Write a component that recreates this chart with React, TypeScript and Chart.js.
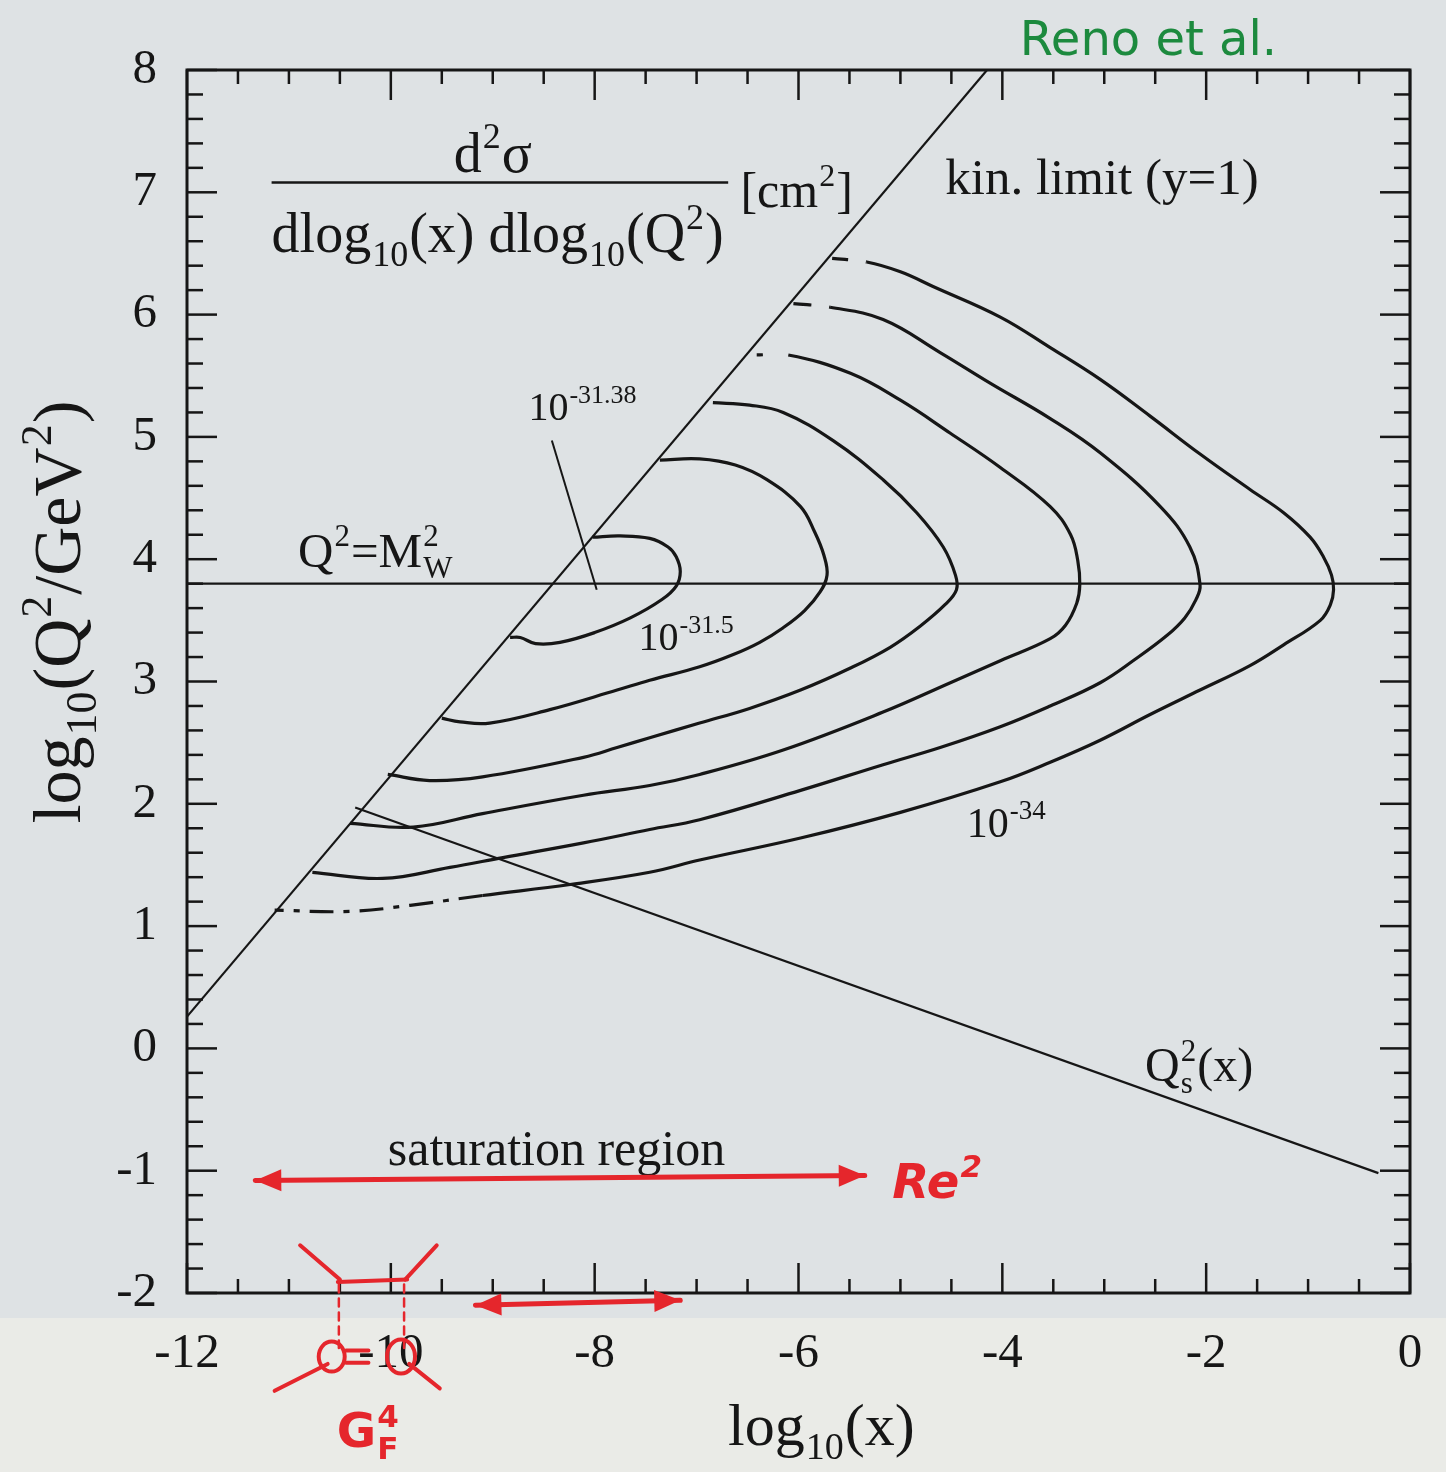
import { useEffect, useRef } from "react";
import { Chart, registerables } from "chart.js";

Chart.register(...registerables);

type Pt = [number, number];

// Axis ranges (log10 x, log10 Q^2/GeV^2)
const X_MIN = -12;
const X_MAX = 0;
const Y_MIN = -2;
const Y_MAX = 8;
const X_TICK_VALUES = [-12, -10, -8, -6, -4, -2, 0];
const Y_TICK_VALUES = [-2, -1, 0, 1, 2, 3, 4, 5, 6, 7, 8];
const X_MINOR_STEP = 0.5;
const Y_MINOR_STEP = 0.2;

// Contours of d2sigma / dlog10(x) dlog10(Q2), levels 10^-31.5 ... 10^-34 cm^2
const CONTOUR_315: Pt[] = [
  [-8.02, 4.18], [-7.75, 4.19], [-7.46, 4.17], [-7.28, 4.1], [-7.2, 4.02], [-7.16, 3.9],
  [-7.2, 3.78], [-7.34, 3.67], [-7.65, 3.52], [-8.0, 3.4], [-8.34, 3.32], [-8.58, 3.31],
  [-8.73, 3.36], [-8.83, 3.36],
];
const CONTOUR_32: Pt[] = [
  [-7.36, 4.81], [-6.97, 4.82], [-6.62, 4.77], [-6.31, 4.65], [-5.98, 4.43], [-5.84, 4.22],
  [-5.75, 4.03], [-5.72, 3.87], [-5.79, 3.73], [-5.94, 3.58], [-6.15, 3.44], [-6.38, 3.32],
  [-6.64, 3.22], [-6.97, 3.12], [-7.46, 3.01], [-7.78, 2.93], [-8.44, 2.77], [-9.03, 2.66],
  [-9.32, 2.67], [-9.5, 2.7],
];
const CONTOUR_325: Pt[] = [
  [-6.84, 5.28], [-6.48, 5.26], [-6.15, 5.2], [-5.66, 4.97], [-5.17, 4.65], [-4.84, 4.38],
  [-4.58, 4.1], [-4.46, 3.87], [-4.45, 3.75], [-4.56, 3.63], [-4.81, 3.45], [-5.1, 3.28],
  [-5.49, 3.11], [-5.98, 2.93], [-6.48, 2.78], [-6.97, 2.66], [-7.46, 2.54], [-7.78, 2.46],
  [-8.11, 2.38], [-9.1, 2.22], [-9.62, 2.19], [-10.03, 2.24],
];
const CONTOUR_33: Pt[] = [
  [-6.41, 5.67], [-6.1, 5.67], [-5.49, 5.52], [-5.0, 5.3], [-4.51, 5.03], [-4.02, 4.75],
  [-3.53, 4.43], [-3.33, 4.2], [-3.26, 3.99], [-3.24, 3.79], [-3.27, 3.64], [-3.38, 3.46],
  [-3.53, 3.35], [-4.02, 3.17], [-4.51, 2.99], [-5.17, 2.75], [-6.15, 2.44], [-6.97, 2.24],
  [-7.46, 2.15], [-8.11, 2.07], [-9.1, 1.92], [-9.78, 1.81], [-10.4, 1.84],
];
const CONTOUR_335: Pt[] = [
  [-6.05, 6.09], [-5.69, 6.06], [-5.17, 5.96], [-4.61, 5.69], [-4.12, 5.44], [-3.53, 5.15],
  [-3.04, 4.87], [-2.45, 4.43], [-2.16, 4.1], [-2.06, 3.79], [-2.1, 3.67], [-2.21, 3.52],
  [-2.38, 3.38], [-2.7, 3.18], [-3.04, 2.99], [-3.53, 2.8], [-4.02, 2.63], [-4.61, 2.46],
  [-5.17, 2.32], [-5.98, 2.11], [-6.97, 1.87], [-7.46, 1.79], [-8.11, 1.68], [-8.9, 1.56],
  [-9.42, 1.48], [-10.08, 1.39], [-10.77, 1.44],
];
const CONTOUR_34: Pt[] = [
  [-5.67, 6.46], [-5.33, 6.43], [-5.0, 6.35], [-4.68, 6.23], [-4.02, 5.98], [-3.53, 5.73],
  [-3.04, 5.47], [-2.55, 5.17], [-2.06, 4.86], [-1.57, 4.57], [-1.24, 4.38], [-0.98, 4.18],
  [-0.85, 4.02], [-0.77, 3.87], [-0.75, 3.75], [-0.78, 3.63], [-0.88, 3.5], [-1.24, 3.3],
  [-1.57, 3.13], [-2.06, 2.93], [-2.55, 2.73], [-3.04, 2.52], [-3.53, 2.34], [-4.02, 2.18],
  [-5.0, 1.93], [-5.98, 1.72], [-6.97, 1.54], [-7.46, 1.44], [-8.24, 1.34], [-9.1, 1.25],
  [-9.81, 1.17], [-10.4, 1.12], [-11.14, 1.13],
];
const CONTOURS = [CONTOUR_315, CONTOUR_32, CONTOUR_325, CONTOUR_33, CONTOUR_335, CONTOUR_34];

// Broken pieces where the contour meets the kinematic limit (dash pattern of first / last segments)
const CONTOUR_HEAD_DASH: (number[] | null)[] = [null, null, null, [6, 26, 2000], [18, 18, 2000], [16, 18, 2000]];
const CONTOUR_TAIL_SEGMENTS = [0, 0, 0, 0, 0, 3];

// Reference lines
const KIN_LIMIT: Pt[] = [[-12, 0.26], [-4.15, 8]];
const W_MASS_LINE: Pt[] = [[-12, 3.8], [0, 3.8]];
const SATURATION_SCALE: Pt[] = [[-10.35, 1.97], [-0.31, -1.02]];
const PEAK_POINTER: Pt[] = [[-8.42, 4.97], [-7.98, 3.75]];

const INK = "#161616";
const RED = "#e5262c";
const GREEN = "#1c8a3e";
const SERIF = '"Liberation Serif", "Times New Roman", serif';
const HAND = '"DejaVu Sans", "Noto Sans", sans-serif';

type Part = { t?: string; sup?: string; sub?: string };

function richWidth(ctx: CanvasRenderingContext2D, parts: Part[], size: number, fam: string, style = "") {
  let w = 0;
  for (const p of parts) {
    if (p.t) {
      ctx.font = `${style}${size}px ${fam}`;
      w += ctx.measureText(p.t).width;
    }
    if (p.sup || p.sub) {
      ctx.font = `${style}${Math.round(size * 0.64)}px ${fam}`;
      w += Math.max(p.sup ? ctx.measureText(p.sup).width : 0, p.sub ? ctx.measureText(p.sub).width : 0);
    }
  }
  return w;
}

function drawRich(
  ctx: CanvasRenderingContext2D,
  parts: Part[],
  x: number,
  y: number,
  size: number,
  opts: { fam?: string; color?: string; align?: "left" | "center"; style?: string } = {}
) {
  const fam = opts.fam ?? SERIF;
  const style = opts.style ?? "";
  ctx.fillStyle = opts.color ?? INK;
  ctx.textBaseline = "alphabetic";
  ctx.textAlign = "left";
  let cx = x;
  if (opts.align === "center") cx = x - richWidth(ctx, parts, size, fam, style) / 2;
  for (const p of parts) {
    if (p.t) {
      ctx.font = `${style}${size}px ${fam}`;
      ctx.fillText(p.t, cx, y);
      cx += ctx.measureText(p.t).width;
    }
    if (p.sup || p.sub) {
      ctx.font = `${style}${Math.round(size * 0.64)}px ${fam}`;
      let w = 0;
      if (p.sup) {
        ctx.fillText(p.sup, cx + 1, y - size * 0.42);
        w = Math.max(w, ctx.measureText(p.sup).width);
      }
      if (p.sub) {
        ctx.fillText(p.sub, cx + 1, y + size * 0.24);
        w = Math.max(w, ctx.measureText(p.sub).width);
      }
      cx += w + 2;
    }
  }
}

function seg(ctx: CanvasRenderingContext2D, x1: number, y1: number, x2: number, y2: number) {
  ctx.beginPath();
  ctx.moveTo(x1, y1);
  ctx.lineTo(x2, y2);
  ctx.stroke();
}

function arrowHead(ctx: CanvasRenderingContext2D, x: number, y: number, ang: number, len: number, half: number) {
  ctx.beginPath();
  ctx.moveTo(x, y);
  ctx.lineTo(x - len * Math.cos(ang) + half * Math.sin(ang), y - len * Math.sin(ang) - half * Math.cos(ang));
  ctx.lineTo(x - len * Math.cos(ang) - half * Math.sin(ang), y - len * Math.sin(ang) + half * Math.cos(ang));
  ctx.closePath();
  ctx.fill();
}

function doubleArrow(ctx: CanvasRenderingContext2D, x1: number, y1: number, x2: number, y2: number) {
  seg(ctx, x1, y1, x2, y2);
  const a = Math.atan2(y2 - y1, x2 - x1);
  arrowHead(ctx, x2, y2, a, 26, 11);
  arrowHead(ctx, x1, y1, a + Math.PI, 26, 11);
}

const decorPlugin = {
  id: "decor",
  beforeDraw(chart: any) {
    const ctx: CanvasRenderingContext2D = chart.ctx;
    ctx.save();
    ctx.fillStyle = "#dee2e4";
    ctx.fillRect(0, 0, chart.width, chart.height);
    ctx.fillStyle = "#eaebe7";
    ctx.fillRect(0, 1318, chart.width, chart.height - 1318);
    ctx.restore();
  },
  afterDraw(chart: any) {
    const ctx: CanvasRenderingContext2D = chart.ctx;
    const xs = chart.scales.x;
    const ys = chart.scales.y;
    const X = (v: number) => xs.getPixelForValue(v);
    const Y = (v: number) => ys.getPixelForValue(v);
    const { left, right, top, bottom } = chart.chartArea;
    ctx.save();
    ctx.strokeStyle = INK;
    ctx.lineCap = "butt";

    // frame
    ctx.lineWidth = 3;
    ctx.strokeRect(left, top, right - left, bottom - top);

    // inward ticks on all four sides
    ctx.lineWidth = 2.5;
    const nx = Math.round((X_MAX - X_MIN) / X_MINOR_STEP);
    for (let i = 0; i <= nx; i++) {
      const v = X_MIN + i * X_MINOR_STEP;
      const major = i % 4 === 0;
      const len = major ? 30 : 14;
      const p = X(v);
      seg(ctx, p, bottom, p, bottom - len);
      seg(ctx, p, top, p, top + len);
    }
    const ny = Math.round((Y_MAX - Y_MIN) / Y_MINOR_STEP);
    for (let i = 0; i <= ny; i++) {
      const v = Y_MIN + i * Y_MINOR_STEP;
      const major = i % 5 === 0;
      const len = major ? 30 : 16;
      const p = Y(v);
      seg(ctx, left, p, left + len, p);
      seg(ctx, right, p, right - len, p);
    }

    // cross-section fraction
    drawRich(ctx, [{ t: "d" }, { sup: "2" }, { t: "σ" }], X(-9.01), Y(7.17), 56, { align: "center" });
    ctx.lineWidth = 2.5;
    seg(ctx, X(-11.17), Y(7.08), X(-6.69), Y(7.08));
    drawRich(
      ctx,
      [{ t: "dlog" }, { sub: "10" }, { t: "(x) dlog" }, { sub: "10" }, { t: "(Q" }, { sup: "2" }, { t: ")" }],
      X(-11.17),
      Y(6.51),
      56
    );
    drawRich(ctx, [{ t: "[cm" }, { sup: "2" }, { t: "]" }], X(-6.57), Y(6.88), 50);

    // line labels
    drawRich(ctx, [{ t: "kin. limit (y=1)" }], X(-4.56), Y(6.99), 51);
    drawRich(ctx, [{ t: "Q" }, { sup: "2" }, { t: "=M" }, { sup: "2", sub: "W" }], X(-10.91), Y(3.94), 49);
    drawRich(ctx, [{ t: "Q" }, { sup: "2", sub: "s" }, { t: "(x)" }], X(-2.6), Y(-0.27), 48);
    drawRich(ctx, [{ t: "saturation region" }], X(-10.03), Y(-0.95), 50);

    // contour labels
    drawRich(ctx, [{ t: "10" }, { sup: "-31.38" }], X(-8.65), Y(5.14), 40);
    drawRich(ctx, [{ t: "10" }, { sup: "-31.5" }], X(-7.57), Y(3.26), 40);
    drawRich(ctx, [{ t: "10" }, { sup: "-34" }], X(-4.35), Y(1.73), 42);

    // axis titles
    drawRich(ctx, [{ t: "log" }, { sub: "10" }, { t: "(x)" }], 728, bottom + 152, 60);
    ctx.save();
    ctx.translate(80, 615);
    ctx.rotate(-Math.PI / 2);
    drawRich(
      ctx,
      [{ t: "log" }, { sub: "10" }, { t: "(Q" }, { sup: "2" }, { t: "/GeV" }, { sup: "2" }, { t: ")" }],
      0,
      0,
      68,
      { align: "center" }
    );
    ctx.restore();

    // handwritten notes
    drawRich(ctx, [{ t: "Reno et al." }], X(-3.83), Y(8.12), 48, { fam: HAND, color: GREEN });

    ctx.strokeStyle = RED;
    ctx.fillStyle = RED;
    ctx.lineWidth = 5;
    ctx.lineCap = "round";
    doubleArrow(ctx, X(-11.33), Y(-1.08), X(-5.35), Y(-1.04));
    doubleArrow(ctx, X(-9.17), Y(-2.1), X(-7.16), Y(-2.06));
    drawRich(ctx, [{ t: "Re" }, { sup: "2" }], X(-5.08), Y(-1.22), 48, { fam: HAND, color: RED, style: "italic bold " });

    ctx.lineWidth = 4;
    seg(ctx, X(-10.89), Y(-1.61), X(-10.5), Y(-1.89));
    seg(ctx, X(-9.55), Y(-1.61), X(-9.86), Y(-1.89));
    seg(ctx, X(-10.52), Y(-1.91), X(-9.84), Y(-1.89));
    ctx.lineWidth = 2.5;
    ctx.setLineDash([8, 6]);
    seg(ctx, X(-10.51), Y(-1.93), X(-10.51), Y(-2.45));
    seg(ctx, X(-9.87), Y(-1.93), X(-9.87), Y(-2.45));
    ctx.setLineDash([]);
    ctx.lineWidth = 4;
    ctx.beginPath();
    ctx.ellipse(X(-10.58), Y(-2.52), 13, 15, 0, 0, Math.PI * 2);
    ctx.stroke();
    ctx.beginPath();
    ctx.ellipse(X(-9.9), Y(-2.52), 14, 17, 0, 0, Math.PI * 2);
    ctx.stroke();
    seg(ctx, X(-10.44), Y(-2.47), X(-10.22), Y(-2.47));
    seg(ctx, X(-10.44), Y(-2.57), X(-10.22), Y(-2.57));
    seg(ctx, X(-10.62), Y(-2.58), X(-11.14), Y(-2.8));
    seg(ctx, X(-9.82), Y(-2.58), X(-9.52), Y(-2.78));
    drawRich(ctx, [{ t: "G" }, { sup: "4", sub: "F" }], X(-10.53), Y(-3.26), 48, { fam: HAND, color: RED, style: "bold " });

    ctx.restore();
  },
};

function lineSet(data: Pt[], width: number, tension: number, headDash: number[] | null = null, tailSegs = 0) {
  const n = data.length - 1;
  return {
    data: data.map(([x, y]) => ({ x, y })),
    showLine: true,
    borderColor: INK,
    borderWidth: width,
    pointRadius: 0,
    tension,
    fill: false,
    segment: {
      borderDash: (c: any) => {
        if (headDash && c.p0DataIndex === 0) return headDash;
        if (tailSegs > 0 && c.p0DataIndex >= n - tailSegs) return [24, 10, 6, 10];
        return undefined;
      },
    },
  };
}

export default function App() {
  const ref = useRef<HTMLCanvasElement>(null);

  useEffect(() => {
    document.body.style.margin = "0";
    const canvas = ref.current;
    if (!canvas) return;
    const tickFont = { family: SERIF, size: 49 };
    const chart = new Chart(canvas, {
      type: "scatter",
      data: {
        datasets: [
          ...CONTOURS.map((c, i) => lineSet(c, 3.2, 0.4, CONTOUR_HEAD_DASH[i], CONTOUR_TAIL_SEGMENTS[i])),
          lineSet(KIN_LIMIT, 2.2, 0),
          lineSet(W_MASS_LINE, 2.2, 0),
          lineSet(SATURATION_SCALE, 2.2, 0),
          lineSet(PEAK_POINTER, 2, 0),
        ],
      },
      options: {
        responsive: false,
        animation: false,
        devicePixelRatio: 1,
        layout: { padding: { top: 70, right: 36, left: 0, bottom: 0 } },
        plugins: { legend: { display: false }, tooltip: { enabled: false } },
        scales: {
          x: {
            type: "linear",
            min: X_MIN,
            max: X_MAX,
            afterFit: (s: any) => {
              s.height = 179;
              s.paddingLeft = 0;
              s.paddingRight = 0;
            },
            afterBuildTicks: (s: any) => {
              s.ticks = X_TICK_VALUES.map((v) => ({ value: v }));
            },
            grid: { display: false, drawTicks: false },
            border: { display: false },
            ticks: {
              font: tickFont,
              color: INK,
              padding: 32,
              maxRotation: 0,
              autoSkip: false,
              callback: (v: any) => String(v),
            },
          },
          y: {
            type: "linear",
            min: Y_MIN,
            max: Y_MAX,
            afterFit: (s: any) => {
              s.width = 187;
              s.paddingTop = 0;
              s.paddingBottom = 0;
            },
            afterBuildTicks: (s: any) => {
              s.ticks = Y_TICK_VALUES.map((v) => ({ value: v }));
            },
            grid: { display: false, drawTicks: false },
            border: { display: false },
            ticks: {
              font: tickFont,
              color: INK,
              padding: 30,
              autoSkip: false,
              callback: (v: any) => String(v),
            },
          },
        },
      } as any,
      plugins: [decorPlugin],
    });
    return () => chart.destroy();
  }, []);

  return <canvas ref={ref} width={1446} height={1472} style={{ display: "block" }} />;
}
